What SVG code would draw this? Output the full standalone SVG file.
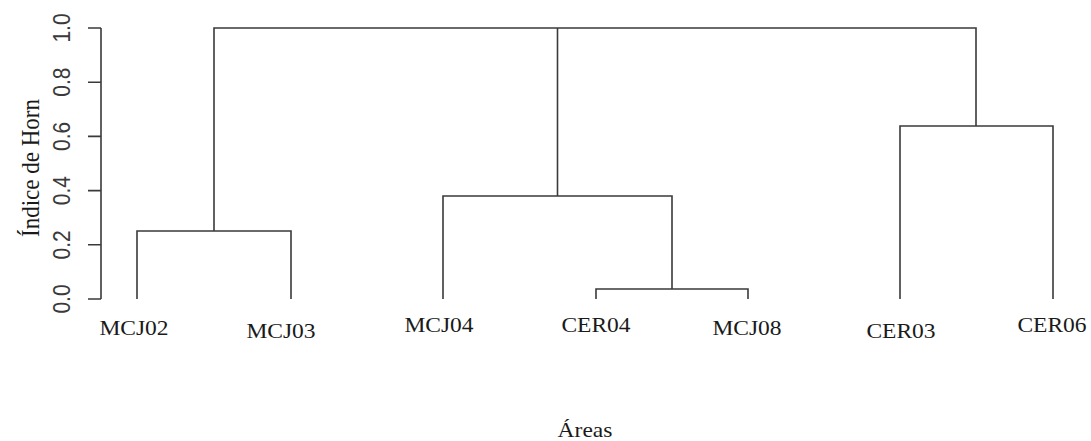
<svg xmlns="http://www.w3.org/2000/svg" width="1091" height="441" viewBox="0 0 1091 441">
<style>
.ln{stroke:#3a3a3a;stroke-width:1.6;fill:none;stroke-linecap:butt;stroke-linejoin:miter}
.tk{font-family:"Liberation Sans",Arial,sans-serif;font-size:21px;fill:#3a3a3a;text-anchor:middle}
.lb{font-family:"Liberation Serif","Times New Roman",serif;font-size:21px;fill:#1a1a1a;text-anchor:middle}
.ti{font-family:"Liberation Serif","Times New Roman",serif;font-size:23px;fill:#1a1a1a;text-anchor:middle}
</style>
<rect width="1091" height="441" fill="#ffffff"/>
<g id="axis">
<path class="ln" d="M101 28V299M88 28H101M88 82.2H101M88 136.4H101M88 190.6H101M88 244.8H101M88 299H101"/>
<text class="tk" transform="translate(70,28) scale(1.12,1) rotate(-90)">1.0</text>
<text class="tk" transform="translate(70,82.2) scale(1.12,1) rotate(-90)">0.8</text>
<text class="tk" transform="translate(70,136.4) scale(1.12,1) rotate(-90)">0.6</text>
<text class="tk" transform="translate(70,190.6) scale(1.12,1) rotate(-90)">0.4</text>
<text class="tk" transform="translate(70,244.8) scale(1.12,1) rotate(-90)">0.2</text>
<text class="tk" transform="translate(70,299) scale(1.12,1) rotate(-90)">0.0</text>
<text class="ti" transform="translate(39,168) scale(1.12,1) rotate(-90)">Índice de Horn</text>
<text class="lb" transform="translate(585,437) scale(1.12,1)">Áreas</text>
</g>
<g id="connectors">
<path class="ln" d="M137 299V231H291V299"/>
<path class="ln" d="M214 231V28H976V126"/>
<path class="ln" d="M596 299V289H748V299"/>
<path class="ln" d="M443 299V196H672V289"/>
<path class="ln" d="M557.5 196V28"/>
<path class="ln" d="M900 299V126H1053V299"/>
</g>
<g id="leaf-MCJ02"><text class="lb" transform="translate(134,335) scale(1.12,1)">MCJ02</text></g>
<g id="leaf-MCJ03"><text class="lb" transform="translate(281,338) scale(1.12,1)">MCJ03</text></g>
<g id="leaf-MCJ04"><text class="lb" transform="translate(439,332) scale(1.12,1)">MCJ04</text></g>
<g id="leaf-CER04"><text class="lb" transform="translate(596,332) scale(1.12,1)">CER04</text></g>
<g id="leaf-MCJ08"><text class="lb" transform="translate(747,335) scale(1.12,1)">MCJ08</text></g>
<g id="leaf-CER03"><text class="lb" transform="translate(901,338) scale(1.12,1)">CER03</text></g>
<g id="leaf-CER06"><text class="lb" transform="translate(1052,332) scale(1.12,1)">CER06</text></g>
</svg>
